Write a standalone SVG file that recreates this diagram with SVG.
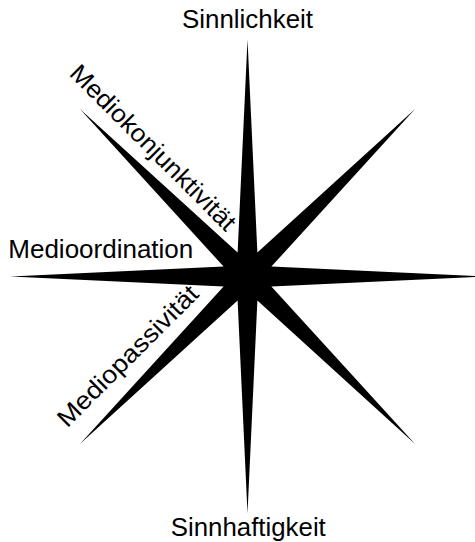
<svg xmlns="http://www.w3.org/2000/svg" width="475" height="542" viewBox="0 0 475 542">
<style>
.lbl{font-family:"Liberation Sans",Arial,sans-serif;font-size:25px;fill:#000;}
.star{fill:#000;stroke:none;}
</style>
<rect width="475" height="542" fill="#fff"/>
<g id="connectors">
<path class="star" d="M247.5,39.5 L257.39,252.62 L415.08,108.92 L271.38,266.61 L484.5,276.5 L271.38,286.39 L415.08,444.08 L257.39,300.38 L247.5,513.5 L237.61,300.38 L79.92,444.08 L223.62,286.39 L10.5,276.5 L223.62,266.61 L79.92,108.92 L237.61,252.62 Z"/>
</g>
<g id="sinnlichkeit"><text class="lbl" x="247.5" y="28.3" text-anchor="middle" textLength="131" lengthAdjust="spacingAndGlyphs">Sinnlichkeit</text></g>
<g id="sinnhaftigkeit"><text class="lbl" x="248.3" y="535.7" text-anchor="middle" textLength="155" lengthAdjust="spacingAndGlyphs">Sinnhaftigkeit</text></g>
<g id="medioordination"><text class="lbl" x="8.3" y="258.3" textLength="185" lengthAdjust="spacingAndGlyphs">Medioordination</text></g>
<g id="mediokonjunktivitaet"><text class="lbl" transform="translate(68.3,74.7) rotate(45)" x="0" y="0" textLength="223" lengthAdjust="spacingAndGlyphs">Mediokonjunktivität</text></g>
<g id="mediopassivitaet"><text class="lbl" transform="translate(67.3,428.4) rotate(-45)" x="0" y="0" textLength="188" lengthAdjust="spacingAndGlyphs">Mediopassivität</text></g>
</svg>
